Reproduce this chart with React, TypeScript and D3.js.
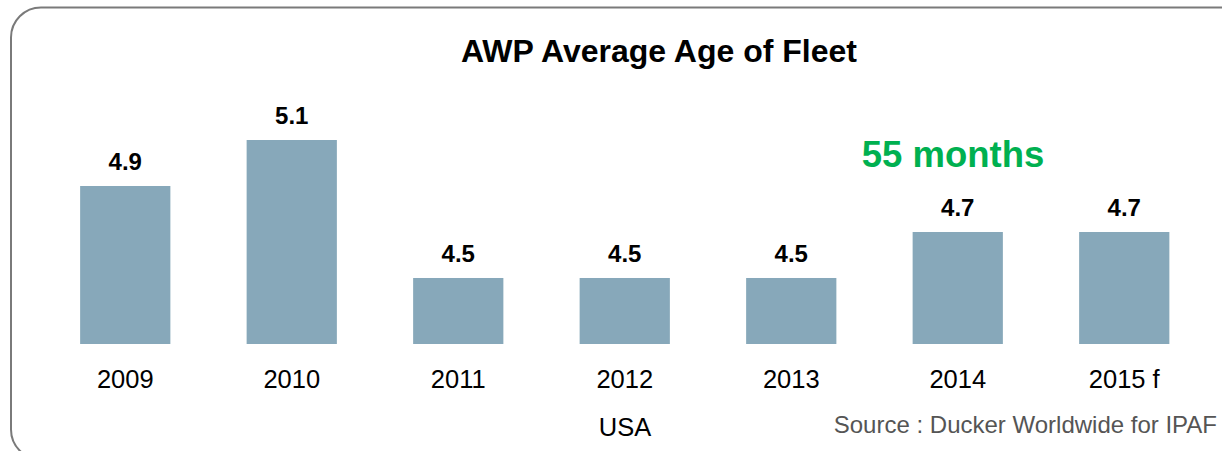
import React from 'react';
import * as d3 from 'd3';

const years = ['2009', '2010', '2011', '2012', '2013', '2014', '2015 f'];
const ages = [4.9, 5.1, 4.5, 4.5, 4.5, 4.7, 4.7];

const W = 1222;
const H = 451;
const font = 'Liberation Sans, Arial, sans-serif';

export default function App() {
  const x = d3
    .scaleBand<string>()
    .domain(years)
    .range([42, 1207.5])
    .paddingInner(0.458)
    .paddingOuter(0.229);

  const y = d3.scaleLinear().domain([4.213, 5.1]).range([344, 140]);
  const base = y(4.213);

  return (
    <svg width={W} height={H} style={{position: 'absolute', left: 0, top: 0}}>
      <rect x={0} y={0} width={W} height={H} fill="#fff" />
      <rect x={11} y={7.5} width={1245} height={452} rx={30} ry={30}
        fill="none" stroke="#7a7a7a" strokeWidth={2} />
      <text x={659} y={62} textAnchor="middle" fontFamily={font}
        fontWeight="bold" fontSize={32} fill="#000">AWP Average Age of Fleet</text>

      {years.map((yr, i) => {
        const bx = x(yr)!;
        const bw = x.bandwidth();
        return (
          <g key={yr}>
            <rect x={bx} y={y(ages[i])} width={bw} height={base - y(ages[i])}
              fill="#87a8ba" />
            <text x={bx + bw / 2} y={y(ages[i]) - 16} textAnchor="middle"
              fontFamily={font} fontWeight="bold" fontSize={24} fill="#000">
              {ages[i].toFixed(1)}
            </text>
            <text x={bx + bw / 2} y={388} textAnchor="middle"
              fontFamily={font} fontSize={25.5} fill="#000">{yr}</text>
          </g>
        );
      })}

      <text x={953} y={167} textAnchor="middle" fontFamily={font}
        fontWeight="bold" fontSize={36.5} fill="#00b050">55 months</text>
      <text x={625} y={436} textAnchor="middle" fontFamily={font}
        fontSize={25.5} fill="#000">USA</text>
      <text x={1217} y={433} textAnchor="end" fontFamily={font}
        fontSize={24} fill="#555">Source : Ducker Worldwide for IPAF</text>
    </svg>
  );
}
